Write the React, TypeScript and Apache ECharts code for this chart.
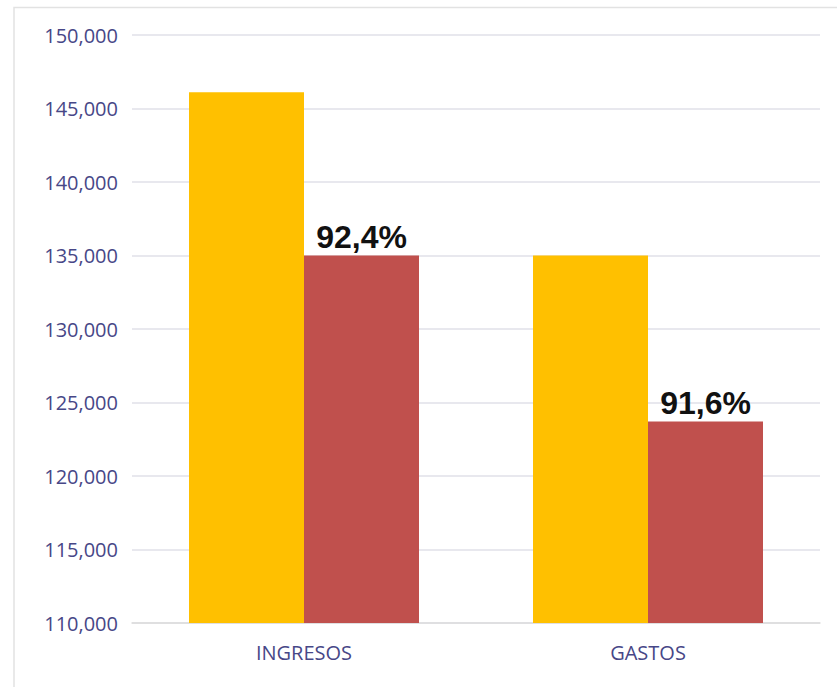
import React, { useEffect, useRef } from "react";
import * as echarts from "echarts";

const categories = ["INGRESOS", "GASTOS"];
const budgetValues = [146100, 135000];
const actualValues = [135000, 123700];
const percentLabels = ["92,4%", "91,6%"];
const yTicks = { min: 110000, max: 150000, interval: 5000 };

export default function App() {
  const ref = useRef<HTMLDivElement>(null);
  useEffect(() => {
    const chart = echarts.init(ref.current!, null, { renderer: "svg" });
    chart.setOption({
      animation: false,
      backgroundColor: "#ffffff",
      graphic: [
        {
          type: "polyline",
          shape: { points: [[14, 700], [14, 7.5], [850, 7.5]] },
          style: { stroke: "#e2e2e2", fill: null, lineWidth: 1.5 },
          silent: true,
        },
      ],
      grid: { left: 132, right: 17, top: 35, bottom: 64 },
      xAxis: {
        type: "category",
        data: categories,
        axisLine: { show: true, lineStyle: { color: "#dcdcdc", width: 1.5 } },
        axisTick: { show: false },
        axisLabel: {
          color: "#474787",
          fontFamily: "Open Sans",
          fontSize: 20,
          margin: 19,
        },
      },
      yAxis: {
        type: "value",
        min: yTicks.min,
        max: yTicks.max,
        interval: yTicks.interval,
        axisLine: { show: false },
        axisTick: { show: false },
        splitLine: { lineStyle: { color: "#e0e0e8", width: 1.5 } },
        axisLabel: {
          color: "#474787",
          fontFamily: "Open Sans",
          fontSize: 20,
          margin: 14,
          formatter: (v: number) => v.toLocaleString("en-US"),
        },
      },
      series: [
        {
          type: "bar",
          data: budgetValues,
          barWidth: 115,
          barGap: "0%",
          itemStyle: { color: "#FFC000" },
        },
        {
          type: "bar",
          data: actualValues,
          barWidth: 115,
          barGap: "0%",
          itemStyle: { color: "#C0504D" },
          label: {
            show: true,
            position: "top",
            distance: 3,
            formatter: (p: any) => percentLabels[p.dataIndex],
            color: "#111111",
            fontFamily: "Liberation Sans",
            fontWeight: "bold",
            fontSize: 32,
          },
        },
      ],
    });
    return () => chart.dispose();
  }, []);
  return <div ref={ref} style={{ width: 837, height: 687, position: "absolute", left: 0, top: 0 }} />;
}
